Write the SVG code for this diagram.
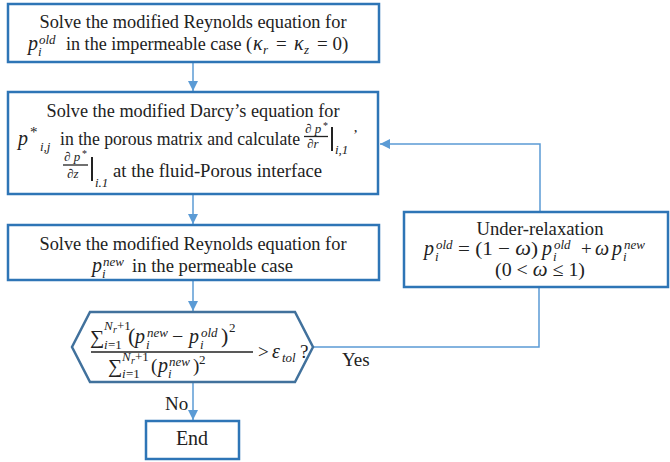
<svg xmlns="http://www.w3.org/2000/svg" width="670" height="462" viewBox="0 0 670 462">
<style>
.box{fill:#fff;stroke:#2e75b6;stroke-width:2.5}
.hex{fill:#fff;stroke:#41719c;stroke-width:2.5}
.con{fill:none;stroke:#5b9bd5;stroke-width:1.5}
text{font-family:"Liberation Serif","Times New Roman",serif;font-size:19px;fill:#222}
.c{text-anchor:middle}
.mi{font-style:italic;font-size:20px}
.s{font-size:13px}
.si{font-size:13px;font-style:italic}
.f{font-size:13px;font-style:italic}
.bar{stroke:#222;stroke-width:1.3}
.vb{stroke:#222;stroke-width:2}
</style>
<defs>
<marker id="ah" viewBox="0 0 10 10" refX="10" refY="5" markerWidth="10" markerHeight="10" markerUnits="userSpaceOnUse" orient="auto">
<path d="M0,0 L10,5 L0,10 z" fill="#5b9bd5"/>
</marker>
</defs>

<g id="connectors">
<line class="con" x1="193" y1="63" x2="193" y2="91" marker-end="url(#ah)"/>
<line class="con" x1="193" y1="195" x2="193" y2="224" marker-end="url(#ah)"/>
<line class="con" x1="193" y1="281" x2="193" y2="311" marker-end="url(#ah)"/>
<line class="con" x1="193" y1="383" x2="193" y2="420" marker-end="url(#ah)"/>
<polyline class="con" points="540,211 540,144 380,144" marker-end="url(#ah)"/>
<polyline class="con" points="314,347 539,347 539,288"/>
</g>

<g id="box1">
<rect class="box" x="8" y="4" width="371" height="58"/>
<text class="c" x="193" y="28" textLength="307" lengthAdjust="spacingAndGlyphs">Solve the modified Reynolds equation for</text>
<text class="mi" x="28" y="50">p</text>
<text class="si" x="39" y="44">old</text>
<text class="si" x="38" y="56">i</text>
<text x="66" y="50" textLength="186" lengthAdjust="spacingAndGlyphs">in the impermeable case (</text>
<text class="mi" x="253" y="50">κ</text><text class="si" x="263" y="54">r</text>
<text x="276" y="50">=</text>
<text class="mi" x="294" y="50">κ</text><text class="si" x="304" y="54">z</text>
<text x="317" y="50">= 0)</text>
</g>

<g id="box2">
<rect class="box" x="8" y="92" width="370" height="102"/>
<text class="c" x="193" y="117" textLength="293" lengthAdjust="spacingAndGlyphs">Solve the modified Darcy’s equation for</text>
<text class="mi" x="18" y="145">p</text>
<text class="s" x="30" y="137" style="font-size:15px">*</text>
<text class="si" x="40" y="151">i,j</text>
<text x="60" y="145" textLength="240" lengthAdjust="spacingAndGlyphs">in the porous matrix and calculate</text>
<text class="f" x="305" y="133">∂ p</text>
<text class="s" x="323" y="129" style="font-size:10px">*</text>
<line class="bar" x1="304" y1="136.5" x2="328" y2="136.5"/>
<text class="f" x="307" y="148">∂r</text>
<line class="vb" x1="332" y1="127" x2="332" y2="151"/>
<text class="si" x="335" y="154">i,1</text>
<text x="353" y="140" style="font-size:15px">’</text>
<text class="f" x="64" y="161">∂ p</text>
<text class="s" x="82" y="157" style="font-size:10px">*</text>
<line class="bar" x1="63" y1="165" x2="88" y2="165"/>
<text class="f" x="67" y="178">∂z</text>
<line class="vb" x1="92" y1="157" x2="92" y2="181"/>
<text class="si" x="95" y="187">i.1</text>
<text x="113" y="177" textLength="209" lengthAdjust="spacingAndGlyphs">at the fluid-Porous interface</text>
</g>

<g id="box3">
<rect class="box" x="8" y="225" width="371" height="55"/>
<text class="c" x="193" y="250" textLength="307" lengthAdjust="spacingAndGlyphs">Solve the modified Reynolds equation for</text>
<text class="mi" x="92" y="272">p</text>
<text class="si" x="103" y="266">new</text>
<text class="si" x="102" y="278">i</text>
<text x="132" y="272" textLength="161" lengthAdjust="spacingAndGlyphs">in the permeable case</text>
</g>

<g id="decision">
<polygon class="hex" points="90,312 295,312 313,347 295,382 90,382 72,347"/>
<text x="90" y="344" style="font-size:20px">∑</text>
<text class="si" x="104" y="349">i</text><text class="s" x="108" y="349">=1</text>
<text class="si" x="104" y="330">N</text><text class="si" x="113" y="333" style="font-size:10px">r</text><text class="s" x="117" y="330">+1</text>
<text x="128" y="343" style="font-size:22px">(</text>
<text class="mi" x="135" y="343">p</text>
<text class="si" x="147" y="337">new</text>
<text class="si" x="146" y="349">i</text>
<text x="172" y="343" style="font-size:20px">−</text>
<text class="mi" x="189" y="343">p</text>
<text class="si" x="201" y="337">old</text>
<text class="si" x="200" y="349">i</text>
<text x="221" y="343" style="font-size:22px">)</text>
<text class="s" x="229" y="332">2</text>
<line class="bar" x1="91" y1="352" x2="253" y2="352"/>
<text x="108" y="373" style="font-size:20px">∑</text>
<text class="si" x="122" y="378">i</text><text class="s" x="126" y="378">=1</text>
<text class="si" x="122" y="361">N</text><text class="si" x="131" y="364" style="font-size:10px">r</text><text class="s" x="135" y="361">+1</text>
<text x="151" y="372">(</text>
<text class="mi" x="158" y="372">p</text>
<text class="si" x="169" y="366">new</text>
<text class="si" x="168" y="378">i</text>
<text x="193" y="372">)</text>
<text class="s" x="199" y="364">2</text>
<text x="258" y="358">&gt;</text>
<text class="mi" x="272" y="358">ε</text>
<text class="si" x="282" y="362">tol</text>
<text x="300" y="358">?</text>
</g>

<g id="underrelax">
<rect class="box" x="404" y="212" width="264" height="75"/>
<text class="c" x="540" y="235" textLength="127" lengthAdjust="spacingAndGlyphs">Under-relaxation</text>
<text class="mi" x="424" y="255">p</text>
<text class="si" x="436" y="249">old</text>
<text class="si" x="435" y="261">i</text>
<text x="458" y="255" textLength="80" lengthAdjust="spacingAndGlyphs">= (1 − <tspan class="mi">ω</tspan>)</text>
<text class="mi" x="542" y="255">p</text>
<text class="si" x="554" y="249">old</text>
<text class="si" x="553" y="261">i</text>
<text x="581" y="255">+</text>
<text class="mi" x="595" y="255">ω</text>
<text class="mi" x="612" y="255">p</text>
<text class="si" x="624" y="249">new</text>
<text class="si" x="623" y="261">i</text>
<text class="c" x="540" y="276" textLength="90" lengthAdjust="spacingAndGlyphs">(0 &lt; <tspan class="mi">ω</tspan> ≤ 1)</text>
</g>

<g id="end">
<rect class="box" x="146" y="421" width="93" height="38"/>
<text class="c" x="192" y="445" style="font-size:20px">End</text>
</g>

<g id="labels">
<text x="342" y="366">Yes</text>
<text x="165" y="410">No</text>
</g>
</svg>
